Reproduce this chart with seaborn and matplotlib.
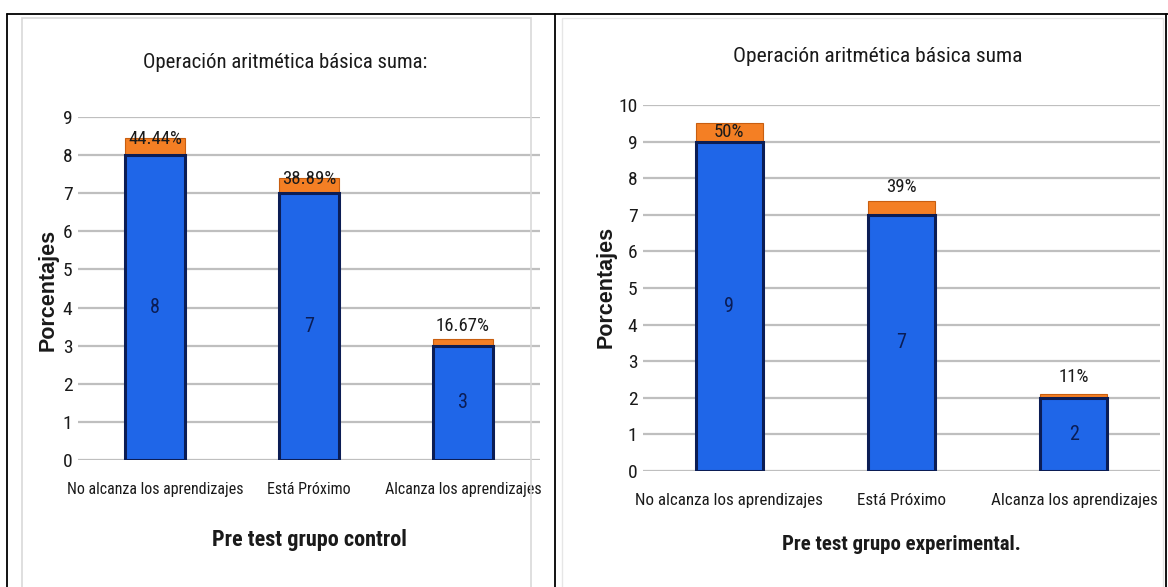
import matplotlib
matplotlib.use("Agg")
import matplotlib.pyplot as plt
from matplotlib import font_manager
from matplotlib.patches import Rectangle
from matplotlib.lines import Line2D
import seaborn as sns
import pandas as pd

# Category labels shared by both groups
categorias = ["No alcanza los aprendizajes", "Está Próximo", "Alcanza los aprendizajes"]

# Pre test, control group: student counts and percentages
control_n = [8, 7, 3]
control_pct = [44.44, 38.89, 16.67]
control_pct_txt = ["44.44%", "38.89%", "16.67%"]

# Pre test, experimental group: student counts and percentages
exper_n = [9, 7, 2]
exper_pct = [50, 39, 11]
exper_pct_txt = ["50%", "39%", "11%"]

sns.set_theme(style="white")

# Prefer a narrow face for the chart text
installed = {f.name for f in font_manager.fontManager.ttflist}
narrow = None
for cand in ["Liberation Sans Narrow", "Roboto Condensed", "Open Sans Condensed",
             "Noto Sans Condensed", "DejaVu Sans Condensed"]:
    if cand in installed:
        narrow = cand
        break
STRETCH = "normal"
if narrow is None:
    narrow = "DejaVu Sans"
    if any(f.name == "DejaVu Sans" and f.stretch == "condensed"
           for f in font_manager.fontManager.ttflist):
        STRETCH = "condensed"
plt.rcParams["font.family"] = [narrow, "DejaVu Sans"]
plt.rcParams["font.stretch"] = STRETCH

BLUE = "#1F66E8"
NAVY = "#0B1D55"
ORANGE = "#F47F24"
GRID = "#BFBFBF"
TXT = "#1A1A1A"

fig = plt.figure(figsize=(11.68, 5.87), dpi=100)
renderer = fig.canvas.get_renderer()


def fit(artist, target_px, base):
    """Scale a text artist's size so its drawn width is target_px."""
    artist.set_fontsize(base)
    w = artist.get_window_extent(renderer).width
    artist.set_fontsize(base * target_px / w)


# Table frame around the two charts
for seg in [((0.006, 1.0), (0.976, 0.976)),
            ((0.006, 0.006), (0.0, 0.976)),
            ((0.475, 0.475), (0.0, 0.976)),
            ((0.998, 0.998), (0.0, 0.976))]:
    fig.add_artist(Line2D(seg[0], seg[1], color="black", lw=1.3, transform=fig.transFigure))
# Light chart-area borders
fig.add_artist(Rectangle((0.019, -0.01), 0.455 - 0.019, 0.98, transform=fig.transFigure,
                         fill=False, edgecolor="#D9D9D9", lw=1.2))
fig.add_artist(Rectangle((0.481, -0.01), 0.515, 0.98, transform=fig.transFigure,
                         fill=False, edgecolor="#E6E6E6", lw=1.0))


def panel(rect, counts, pcts, pct_txt, ymax, title, xlabel, title_y, xlabel_y, ylabel_x,
          ylabel_y, lifts, tick_w, title_w, xlabel_w):
    ax = fig.add_axes(rect)
    df = pd.DataFrame({
        "cat": categorias,
        "n": counts,
        "total": [c + p / 100 for c, p in zip(counts, pcts)],
    })
    # orange segment = percentage share stacked on the count
    sns.barplot(data=df, x="cat", y="total", color=ORANGE, saturation=1, width=0.39,
                edgecolor="#C85E10", linewidth=0.8, ax=ax, zorder=3)
    sns.barplot(data=df, x="cat", y="n", color=BLUE, saturation=1, width=0.39,
                edgecolor=NAVY, linewidth=2.2, ax=ax, zorder=4)
    ax.set_ylim(0, ymax)
    ax.set_xlim(-0.5, 2.5)
    ax.set_yticks(range(0, ymax + 1))
    ax.yaxis.grid(True, color=GRID, lw=1.6, zorder=0)
    ax.set_axisbelow(True)
    for s in ax.spines.values():
        s.set_visible(False)
    ax.tick_params(axis="y", labelsize=14, colors=TXT, pad=4, length=0)
    ax.tick_params(axis="x", colors=TXT, pad=16, length=0)
    ax.set_xlabel("")
    ax.set_ylabel("")
    labels = ax.get_xticklabels()
    fit(labels[0], tick_w, 12)
    for lab in labels[1:]:
        lab.set_fontsize(labels[0].get_fontsize())
    for i, (c, p, t, lift) in enumerate(zip(counts, pcts, pct_txt, lifts)):
        ax.text(i, c / 2, str(c), ha="center", va="center", fontsize=14.5, color=NAVY,
                zorder=5)
        ax.text(i, c + p / 100 + lift, t, ha="center", va="center", fontsize=13.5,
                color=TXT, zorder=6)
    x0, y0, w, h = rect
    tt = fig.text(x0 + w * 0.5 - 0.02, title_y, title, ha="center", va="center", color=TXT)
    fit(tt, title_w, 15)
    xl = fig.text(x0 + w * 0.5, xlabel_y, xlabel, ha="center", va="center",
                  fontweight="bold", color=TXT)
    fit(xl, xlabel_w, 15)
    fig.text(ylabel_x, ylabel_y, "Porcentajes", rotation=90, ha="center",
             va="center", fontweight="bold", family="Liberation Sans", color=TXT,
             fontstretch="normal", fontsize=15.5)
    return ax


panel([0.0668, 0.2164, 0.3955, 0.5843], control_n, control_pct, control_pct_txt, 9,
      "Operación aritmética básica suma:", "Pre test grupo control",
      title_y=0.893, xlabel_y=0.080, ylabel_x=0.041, ylabel_y=0.506,
      lifts=[-0.02, -0.02, 0.35],
      tick_w=176, title_w=285, xlabel_w=195)
panel([0.5505, 0.1976, 0.4427, 0.6235], exper_n, exper_pct, exper_pct_txt, 10,
      "Operación aritmética básica suma", "Pre test grupo experimental.",
      title_y=0.903, xlabel_y=0.072, ylabel_x=0.519, ylabel_y=0.511,
      lifts=[-0.25, 0.38, 0.45],
      tick_w=188, title_w=290, xlabel_w=240)

fig.savefig("out.png", dpi=100, facecolor="white")
